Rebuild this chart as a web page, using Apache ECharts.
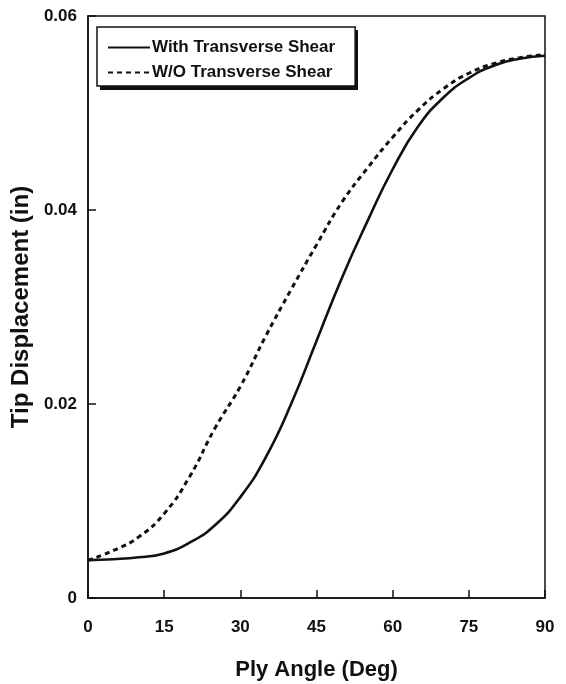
<!DOCTYPE html>
<html>
<head>
<meta charset="utf-8">
<script src="https://cdn.jsdelivr.net/npm/echarts@6/dist/echarts.min.js"></script>
<style>
  html, body { margin: 0; padding: 0; background: #fff; }
  #main { width: 566px; height: 684px; }
</style>
</head>
<body>
<div id="main"></div>
<script>
// ply angle (deg)
const angles = [0, 5, 10, 15, 20, 25, 30, 35, 40, 45, 50, 55, 60, 65, 70, 75, 80, 85, 90];
// tip displacement (in)
const withShear = [0.0039, 0.0040, 0.0042, 0.0046, 0.0057, 0.0075, 0.0104, 0.0145, 0.0200, 0.0265,
  0.0330, 0.0388, 0.0442, 0.0486, 0.0516, 0.0536, 0.0549, 0.0556, 0.0559];
const withoutShear = [0.0039, 0.0049, 0.0063, 0.0087, 0.0125, 0.0175, 0.0218, 0.0270, 0.0318, 0.0364,
  0.0408, 0.0443, 0.0475, 0.0503, 0.0525, 0.0541, 0.0551, 0.0557, 0.0560];
const yTicks = ['0', '0.02', '0.04', '0.06'];

const font = 'Liberation Sans, Arial, sans-serif';

function pairs(xs, ys) {
  return xs.map((x, i) => [x, ys[i]]);
}

const chart = echarts.init(document.getElementById('main'));
const option = {
  animation: false,
  backgroundColor: '#fff',
  textStyle: { fontFamily: font, color: '#111' },
  grid: {
    left: 88, right: 21, top: 16, bottom: 86,
    containLabel: false, outerBoundsMode: 'none',
    show: true, borderColor: '#111', borderWidth: 1.5, backgroundColor: 'transparent'
  },
  // drop shadow behind the legend box
  graphic: [{
    type: 'rect', left: 100, top: 30, z: 1,
    shape: { width: 258, height: 60 },
    style: { fill: '#111' }
  }],
  legend: {
    left: 97, top: 27, z: 5,
    orient: 'vertical',
    itemWidth: 42, itemHeight: 14, itemGap: 8,
    padding: [12, 20, 5, 10],
    backgroundColor: '#fff',
    borderColor: '#111', borderWidth: 1.5, borderRadius: 0,
    itemStyle: { opacity: 0 },
    textStyle: { fontFamily: font, fontSize: 17, fontWeight: 'bold', color: '#111', padding: [0, 0, 0, -3] },
    data: ['With Transverse Shear', 'W/O Transverse Shear']
  },
  xAxis: {
    type: 'value', min: 0, max: 90, interval: 15,
    name: 'Ply Angle (Deg)', nameLocation: 'middle', nameGap: 61,
    nameTextStyle: { fontFamily: font, fontSize: 22, fontWeight: 'bold', color: '#111' },
    axisLine: { lineStyle: { color: '#111', width: 1.5 } },
    axisTick: { inside: true, length: 8, lineStyle: { color: '#111', width: 1.5 } },
    axisLabel: { margin: 21, fontFamily: font, fontSize: 17, fontWeight: 'bold', color: '#111' },
    splitLine: { show: false }
  },
  yAxis: {
    type: 'value', min: 0, max: 0.06, interval: 0.02,
    name: 'Tip Displacement (in)', nameLocation: 'middle', nameGap: 50,
    nameTextStyle: { fontFamily: font, fontSize: 24, fontWeight: 'bold', color: '#111' },
    axisLine: { lineStyle: { color: '#111', width: 1.5 } },
    axisTick: { inside: true, length: 8, lineStyle: { color: '#111', width: 1.5 } },
    axisLabel: {
      margin: 11, fontFamily: font, fontSize: 17, fontWeight: 'bold', color: '#111',
      formatter: (v) => yTicks[Math.round(v / 0.02)]
    },
    splitLine: { show: false }
  },
  series: [
    {
      name: 'With Transverse Shear', type: 'line', smooth: true,
      symbol: 'none', showSymbol: false,
      lineStyle: { color: '#111', width: 2.6, type: 'solid' },
      itemStyle: { color: '#111' },
      data: pairs(angles, withShear)
    },
    {
      name: 'W/O Transverse Shear', type: 'line', smooth: true,
      symbol: 'none', showSymbol: false,
      lineStyle: { color: '#111', width: 3, type: [5, 4] },
      itemStyle: { color: '#111' },
      data: pairs(angles, withoutShear)
    }
  ]
};
chart.setOption(option);
window.onresize = function () {
  chart.resize();
};
</script>
</body>
</html>
